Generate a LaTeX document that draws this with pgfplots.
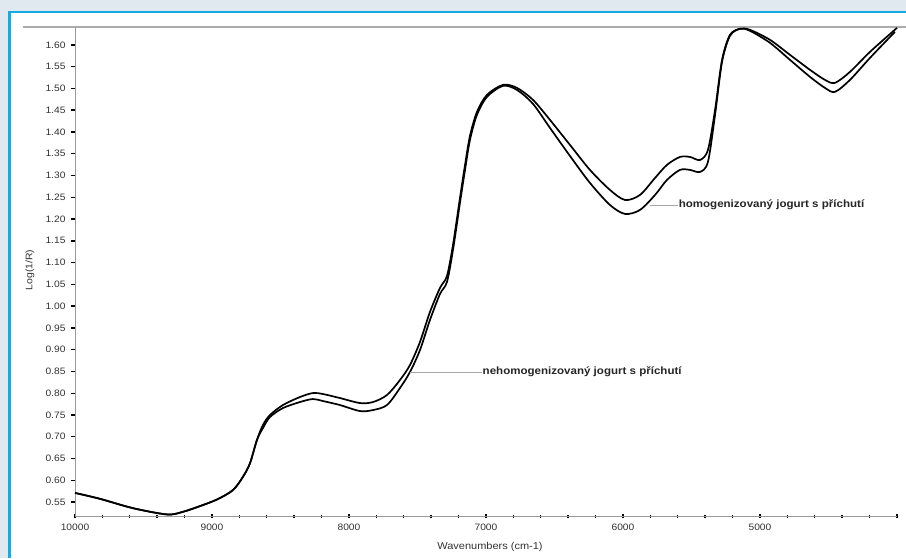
\documentclass[border=0pt]{standalone}
\usepackage{pgfplots}
\pgfplotsset{compat=1.18}
\usepackage{fontspec}
\setmainfont[FakeStretch=1.1]{Liberation Sans}
\definecolor{bg}{HTML}{DFE9EF}
\definecolor{frame}{HTML}{14ABE3}
\definecolor{txt}{HTML}{333333}
\begin{document}
\begin{tikzpicture}[x=1pt,y=1pt]
\useasboundingbox (0,0) rectangle (906,558);
\fill[bg] (0,0) rectangle (906,558);
\fill[white] (8,0) rectangle (906,547);
\draw[frame, line width=2.5pt] (9.25,0) -- (9.25,545.75) -- (906,545.75);
\draw[gray!65, line width=1.5pt] (23,531) -- (906,531);
\begin{axis}[
  at={(75pt,42pt)}, anchor=south west,
  scale only axis, width=822pt, height=489pt,
  x dir=reverse, xmin=4000, xmax=10000,
  ymin=0.518, ymax=1.641,
  scaled x ticks=false, scaled y ticks=false,
  axis x line=bottom, axis y line=left,
  axis line style={-, gray!80, line width=0.7pt},
  xtick={10000,9000,8000,7000,6000,5000,4000},
  xticklabels={10000,9000,8000,7000,6000,5000,},
  minor x tick num=4,
  ytick={0.55,0.6,0.65,0.7,0.75,0.8,0.85,0.9,0.95,1.0,1.05,1.1,1.15,1.2,1.25,1.3,1.35,1.4,1.45,1.5,1.55,1.6},
  /pgf/number format/assume math mode=true,
  ticklabel style={font=\fontsize{9.3}{10}\selectfont, text=txt},
  xticklabel style={yshift=-2.5pt},
  yticklabel style={xshift=-2pt, /pgf/number format/.cd, fixed, fixed zerofill, precision=2},
  x tick style={black, line width=1.4pt},
  y tick style={black, line width=1.4pt},
  xtick align=center, ytick align=outside,
  major tick length=4pt, minor tick length=3pt,
  clip=false,
]
\addplot[black, line width=1.7pt, smooth] coordinates {
(10000,0.571) (9818,0.5575) (9577,0.536) (9328,0.5216) (9212,0.5276) (9088,0.5407) (8963,0.556) (8847,0.5775) (8774,0.608) (8723,0.6388) (8672,0.6924) (8628,0.727)
(8577,0.7498) (8482,0.7728) (8358,0.7912) (8263,0.8004) (8190,0.7981) (8066,0.7889) (7920,0.7774) (7825,0.7797) (7723,0.7958) (7628,0.8302) (7555,0.8647) (7482,0.9176) (7409,0.9865) (7336,1.0416) (7285,1.0692) (7241,1.1404) (7190,1.2484) (7153,1.3243) (7117,1.3909) (7066,1.446) (6993,1.4851) (6876,1.5081) (6774,1.5012) (6657,1.4736) (6533,1.4277) (6387,1.3702) (6241,1.3128) (6095,1.2668) (5985,1.2438) (5876,1.2553) (5766,1.2944) (5679,1.3243) (5584,1.3426) (5511,1.3426) (5438,1.3357) (5380,1.3587) (5328,1.4506) (5277,1.5655) (5219,1.623) (5146,1.6368) (5073,1.6345) (4927,1.6115) (4781,1.577) (4635,1.5426) (4526,1.5196) (4453,1.5127) (4343,1.538) (4197,1.5839) (4000,1.639)
};
\addplot[black, line width=1.7pt, smooth] coordinates {
(10000,0.571) (9818,0.5575) (9577,0.536) (9328,0.5216) (9212,0.5276) (9088,0.5407) (8963,0.556) (8847,0.5775) (8774,0.608) (8723,0.6388) (8672,0.6924) (8628,0.720)
(8577,0.7452) (8482,0.7659) (8358,0.7797) (8263,0.7866) (8190,0.782) (8066,0.7728) (7920,0.759) (7825,0.7613) (7723,0.7728) (7628,0.8118) (7555,0.8486) (7482,0.899) (7409,0.9681) (7336,1.0278) (7285,1.0554) (7241,1.129) (7190,1.2369) (7153,1.3128) (7117,1.3817) (7066,1.4392) (6993,1.4805) (6876,1.5058) (6774,1.4966) (6657,1.4644) (6533,1.4093) (6387,1.3449) (6241,1.2829) (6095,1.2323) (5985,1.2117) (5876,1.2209) (5766,1.2553) (5679,1.2898) (5584,1.3128) (5511,1.3128) (5438,1.3082) (5380,1.3312) (5328,1.4392) (5277,1.5609) (5219,1.6207) (5146,1.6368) (5073,1.6322) (4927,1.6046) (4781,1.5655) (4635,1.5265) (4526,1.5012) (4453,1.492) (4343,1.5196) (4197,1.5701) (4015,1.6299)
};
\draw[gray!70, line width=0.6pt] (axis cs:7555,0.8486) -- (axis cs:7029,0.8486);
\node[anchor=west, inner sep=0.5pt, font=\bfseries\fontsize{10.5}{12}\selectfont, text=black!85] at (axis cs:7029,0.8486) {nehomogenizovaný jogurt s příchutí};
\draw[gray!70, line width=0.6pt] (axis cs:5803,1.232) -- (axis cs:5598,1.232);
\node[anchor=west, inner sep=0.5pt, font=\bfseries\fontsize{10.5}{12}\selectfont, text=black!85] at (axis cs:5598,1.232) {homogenizovaný jogurt s příchutí};
\end{axis}
\node[rotate=90, font=\fontsize{9.5}{11}\selectfont, text=txt] at (30,288) {Log(1/R)};
\node[font=\fontsize{10}{11}\selectfont, text=txt] at (490,11) {Wavenumbers (cm-1)};
\end{tikzpicture}
\end{document}
